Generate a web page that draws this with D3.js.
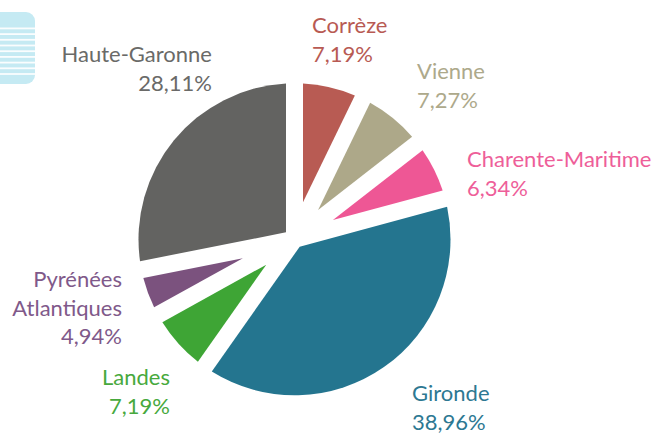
<!DOCTYPE html>
<html><head><meta charset="utf-8">
<script src="https://cdn.jsdelivr.net/npm/d3@7"></script>
<style>
html,body{margin:0;padding:0;background:#fff;}
svg{display:block;}
text{font-family:Lato,"Open Sans",sans-serif;font-weight:400;}
</style></head>
<body><svg id="c" width="654" height="435"></svg>
<script>
const departements = ["Corrèze","Vienne","Charente-Maritime","Gironde","Landes","Pyrénées\nAtlantiques","Haute-Garonne"];
const parts = [7.19, 7.27, 6.34, 38.96, 7.19, 4.94, 28.11];
const sliceColors = ["#b85b53","#ada889","#ee5795","#24758f","#3ea535","#7b527e","#636361"];
const textColors = ["#b85a53","#ada98b","#ee5e99","#2d7892","#47a93d","#80598a","#6a6a68"];

// layout (not data)
const cx = 294.5, cy = 239.3, R = 156, halfGap = 8.5;
const labelLayout = [
  {x:312, y:33, anchor:"start"},
  {x:417, y:79, anchor:"start"},
  {x:467, y:167, anchor:"start"},
  {x:412, y:401, anchor:"start"},
  {x:170, y:385, anchor:"end"},
  {x:122, y:287, anchor:"end"},
  {x:212, y:62, anchor:"end"}
];
const lineH = 28.5;

const svg = d3.select("#c");

// icon top-left
const icon = svg.append("g");
icon.append("rect").attr("x",-12).attr("y",12).attr("width",47).attr("height",72).attr("rx",9).attr("fill","#c5eaf3");
d3.range(9).forEach(i=>{
  icon.append("rect").attr("x",0).attr("y",27.5+i*5.7).attr("width",35).attr("height",1.8).attr("fill","#ffffff").attr("opacity",0.9);
});

const pie = d3.pie().sort(null).value(d=>d)(parts);
const g = svg.append("g").attr("transform",`translate(${cx},${cy})`);

function slicePath(a0,a1){
  const half = (a1-a0)/2, mid = (a0+a1)/2;
  const dist = halfGap/Math.sin(half);
  const d = Math.asin(halfGap/R);
  const p = d3.path();
  p.moveTo(dist*Math.sin(mid), -dist*Math.cos(mid));
  const s = a0+d, e = a1-d;
  p.lineTo(R*Math.sin(s), -R*Math.cos(s));
  p.arc(0,0,R,s-Math.PI/2,e-Math.PI/2,false);
  p.closePath();
  return p.toString();
}

g.selectAll("path").data(pie).join("path")
  .attr("d",d=>slicePath(d.startAngle,d.endAngle))
  .attr("fill",(d,i)=>sliceColors[i]);

const fmt = v => d3.format(".2f")(v).replace(".",",")+"%";
const labels = svg.append("g");
departements.forEach((name,i)=>{
  const L = labelLayout[i];
  const lines = name.split("\n").concat([fmt(parts[i])]);
  const t = labels.append("text").attr("x",L.x).attr("y",L.y)
    .attr("text-anchor",L.anchor).attr("fill",textColors[i])
    .style("font-size","22px");
  lines.forEach((ln,j)=>{
    t.append("tspan").attr("x",L.x).attr("dy", j===0?0:lineH).text(ln);
  });
});
</script></body></html>
